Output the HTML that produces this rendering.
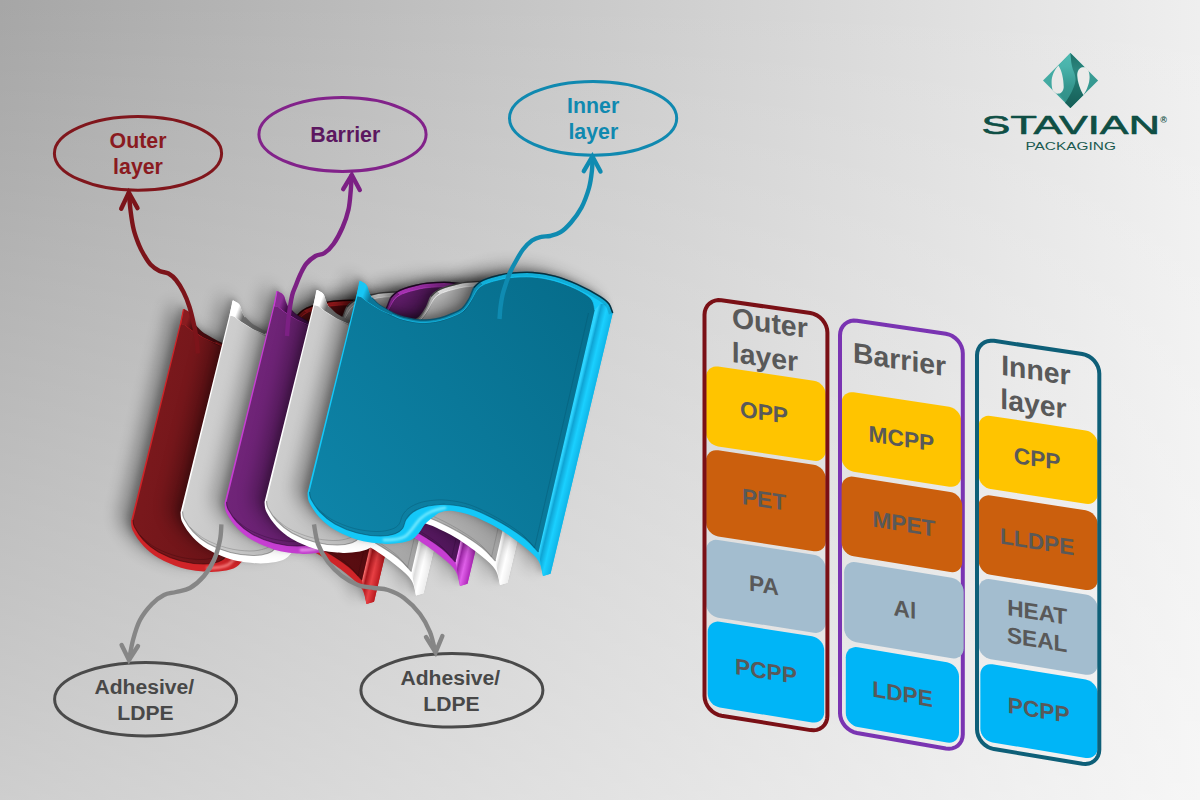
<!DOCTYPE html>
<html lang="en"><head><meta charset="utf-8"><title>Stavian Packaging - film layer structure</title>
<style>
html,body{margin:0;padding:0;}
body{width:1200px;height:800px;overflow:hidden;background:#d0d0d0;font-family:"Liberation Sans", Arial, sans-serif;}
#stage{position:relative;width:1200px;height:800px;overflow:hidden;
 background:linear-gradient(to bottom,rgba(255,255,255,0),rgba(255,255,255,0.45)),linear-gradient(to right,#a6a6a6,#efefef);}
svg{position:absolute;left:0;top:0;display:block;}
svg text{font-family:"Liberation Sans", Arial, sans-serif;}
</style></head><body><div id="stage">
<svg width="1200" height="800" viewBox="0 0 1200 800">

<defs>
<linearGradient id="f_red" gradientUnits="userSpaceOnUse" x1="310" y1="420" x2="560" y2="470"><stop offset="0" stop-color="#7c191d"/><stop offset="1" stop-color="#560c10"/></linearGradient>
<linearGradient id="l_red" gradientUnits="userSpaceOnUse" x1="358" y1="290" x2="384" y2="300"><stop offset="0" stop-color="#8a1c20"/><stop offset="0.22" stop-color="#8a1c20"/><stop offset="0.5" stop-color="#4a0c10"/><stop offset="1" stop-color="#4a0c10"/></linearGradient>
<linearGradient id="s_red" gradientUnits="userSpaceOnUse" x1="594.7" y1="310" x2="612.2" y2="314.2"><stop offset="0" stop-color="#f46868"/><stop offset="0.14" stop-color="#f46868"/><stop offset="0.3" stop-color="#a8161c"/><stop offset="0.62" stop-color="#e84044"/><stop offset="1" stop-color="#bc1c22"/></linearGradient>
<linearGradient id="f_wh1" gradientUnits="userSpaceOnUse" x1="310" y1="420" x2="560" y2="470"><stop offset="0" stop-color="#d2d2d2"/><stop offset="1" stop-color="#a4a4a4"/></linearGradient>
<linearGradient id="l_wh1" gradientUnits="userSpaceOnUse" x1="358" y1="290" x2="384" y2="300"><stop offset="0" stop-color="#ffffff"/><stop offset="0.22" stop-color="#ffffff"/><stop offset="0.5" stop-color="#6c6c6c"/><stop offset="1" stop-color="#6c6c6c"/></linearGradient>
<linearGradient id="s_wh1" gradientUnits="userSpaceOnUse" x1="594.7" y1="310" x2="612.2" y2="314.2"><stop offset="0" stop-color="#ffffff"/><stop offset="0.14" stop-color="#ffffff"/><stop offset="0.3" stop-color="#dcdcdc"/><stop offset="0.62" stop-color="#ffffff"/><stop offset="1" stop-color="#eeeeee"/></linearGradient>
<linearGradient id="f_pur" gradientUnits="userSpaceOnUse" x1="310" y1="420" x2="560" y2="470"><stop offset="0" stop-color="#72257a"/><stop offset="1" stop-color="#50165a"/></linearGradient>
<linearGradient id="l_pur" gradientUnits="userSpaceOnUse" x1="358" y1="290" x2="384" y2="300"><stop offset="0" stop-color="#8a2e94"/><stop offset="0.22" stop-color="#8a2e94"/><stop offset="0.5" stop-color="#44104c"/><stop offset="1" stop-color="#44104c"/></linearGradient>
<linearGradient id="s_pur" gradientUnits="userSpaceOnUse" x1="594.7" y1="310" x2="612.2" y2="314.2"><stop offset="0" stop-color="#f48afa"/><stop offset="0.14" stop-color="#f48afa"/><stop offset="0.3" stop-color="#9c24a6"/><stop offset="0.62" stop-color="#e060ea"/><stop offset="1" stop-color="#b22cbc"/></linearGradient>
<linearGradient id="f_wh2" gradientUnits="userSpaceOnUse" x1="310" y1="420" x2="560" y2="470"><stop offset="0" stop-color="#d0d0d0"/><stop offset="1" stop-color="#a2a2a2"/></linearGradient>
<linearGradient id="l_wh2" gradientUnits="userSpaceOnUse" x1="358" y1="290" x2="384" y2="300"><stop offset="0" stop-color="#ffffff"/><stop offset="0.22" stop-color="#ffffff"/><stop offset="0.5" stop-color="#6c6c6c"/><stop offset="1" stop-color="#6c6c6c"/></linearGradient>
<linearGradient id="s_wh2" gradientUnits="userSpaceOnUse" x1="594.7" y1="310" x2="612.2" y2="314.2"><stop offset="0" stop-color="#ffffff"/><stop offset="0.14" stop-color="#ffffff"/><stop offset="0.3" stop-color="#dcdcdc"/><stop offset="0.62" stop-color="#ffffff"/><stop offset="1" stop-color="#eeeeee"/></linearGradient>
<linearGradient id="f_blu" gradientUnits="userSpaceOnUse" x1="320" y1="520" x2="600" y2="290"><stop offset="0" stop-color="#0e84a8"/><stop offset="1" stop-color="#066c8a"/></linearGradient>
<linearGradient id="l_blu" gradientUnits="userSpaceOnUse" x1="358" y1="290" x2="384" y2="300"><stop offset="0" stop-color="#18c6f4"/><stop offset="0.22" stop-color="#18c6f4"/><stop offset="0.5" stop-color="#0c7698"/><stop offset="1" stop-color="#0c7698"/></linearGradient>
<linearGradient id="s_blu" gradientUnits="userSpaceOnUse" x1="594.7" y1="310" x2="612.2" y2="314.2"><stop offset="0" stop-color="#2cd4ff"/><stop offset="0.14" stop-color="#2cd4ff"/><stop offset="0.3" stop-color="#0fa4d4"/><stop offset="0.62" stop-color="#1ad0ff"/><stop offset="1" stop-color="#10b6e8"/></linearGradient>
<filter id="blur7" x="-20%" y="-20%" width="140%" height="140%"><feGaussianBlur stdDeviation="8"/></filter>
<filter id="blur4" x="-20%" y="-20%" width="140%" height="140%"><feGaussianBlur stdDeviation="3"/></filter>
<filter id="blur1" x="-20%" y="-20%" width="140%" height="140%"><feGaussianBlur stdDeviation="0.8"/></filter>
<path id="sil" d="M360.0,281.0 C360.7,281.3 362.8,282.2 364.0,283.0 C365.2,283.8 366.2,284.5 367.0,286.0 C367.8,287.5 368.2,290.0 369.0,292.0 C369.8,294.0 370.5,296.0 372.0,298.0 C373.5,300.0 376.0,302.3 378.0,304.0 C380.0,305.7 381.7,306.6 384.0,308.0 C386.3,309.4 389.3,311.2 392.0,312.5 C394.7,313.8 397.0,315.0 400.0,316.0 C403.0,317.0 406.7,317.8 410.0,318.5 C413.3,319.2 416.7,319.8 420.0,320.0 C423.3,320.2 426.7,320.0 430.0,319.7 C433.3,319.4 436.7,318.9 440.0,318.0 C443.3,317.1 446.3,316.1 450.0,314.5 C453.7,312.9 458.8,311.2 462.0,308.5 C465.2,305.8 467.5,301.5 469.5,298.0 C471.5,294.5 472.2,290.2 474.0,287.5 C475.8,284.8 477.8,283.5 480.0,282.0 C482.2,280.5 484.5,279.6 487.5,278.5 C490.5,277.4 494.2,276.4 498.0,275.5 C501.8,274.6 504.2,273.7 510.0,273.2 C515.8,272.7 525.0,272.0 532.5,272.5 C540.0,273.0 547.5,274.2 555.0,276.2 C562.5,278.2 570.0,281.1 577.5,284.5 C585.0,287.9 594.8,293.2 600.0,296.5 C605.2,299.8 606.9,301.2 609.0,304.0 C611.1,306.8 612.1,311.5 612.7,313.0 L550.5,573.7 L543.0,576.0 C542.2,573.5 541.5,565.8 538.5,561.0 C535.5,556.2 531.0,552.5 525.0,547.5 C519.0,542.5 510.0,535.8 502.5,531.0 C495.0,526.2 486.2,521.9 480.0,519.0 C473.8,516.1 470.0,514.9 465.0,513.5 C460.0,512.1 454.2,510.9 450.0,510.7 C445.8,510.5 442.7,511.5 440.0,512.5 C437.3,513.5 436.5,514.6 434.0,516.5 C431.5,518.4 427.5,521.2 425.0,524.0 C422.5,526.8 421.5,530.2 419.0,533.0 C416.5,535.8 414.0,538.8 410.0,540.5 C406.0,542.2 400.0,543.0 395.0,543.5 C390.0,544.0 386.2,544.1 380.0,543.5 C373.8,542.9 365.0,542.0 357.5,539.7 C350.0,537.5 341.2,533.6 335.0,530.0 C328.8,526.4 324.2,522.5 320.0,518.0 C315.8,513.5 311.6,507.2 309.5,503.0 C307.4,498.8 307.8,494.7 307.5,493.0 Z"/>
<path id="face" d="M357.5,296.0 C358.2,296.2 360.2,296.5 362.0,297.5 C363.8,298.5 365.0,300.0 368.0,302.0 C371.0,304.0 376.0,307.3 380.0,309.5 C384.0,311.7 388.7,313.5 392.0,315.0 C395.3,316.5 397.0,317.5 400.0,318.5 C403.0,319.5 406.7,320.3 410.0,321.0 C413.3,321.7 416.7,322.3 420.0,322.5 C423.3,322.7 426.7,322.5 430.0,322.2 C433.3,321.9 436.5,321.4 440.0,320.5 C443.5,319.6 447.2,318.6 451.0,317.0 C454.8,315.4 459.7,313.8 463.0,311.0 C466.3,308.2 468.8,303.9 471.0,300.5 C473.2,297.1 474.7,293.0 476.5,290.5 C478.3,288.0 479.9,286.8 482.0,285.5 C484.1,284.2 486.2,283.4 489.0,282.5 C491.8,281.6 495.5,280.6 499.0,279.8 C502.5,279.0 504.5,278.2 510.0,277.7 C515.5,277.2 524.7,276.5 532.0,277.0 C539.3,277.5 546.8,278.8 554.0,280.7 C561.2,282.6 569.3,285.9 575.0,288.5 C580.7,291.1 585.0,293.8 588.0,296.0 C591.0,298.2 591.9,299.7 593.0,302.0 C594.1,304.3 594.4,308.7 594.7,310.0 L538.5,552.0 C536.2,549.8 531.0,543.2 525.0,538.5 C519.0,533.8 510.0,527.9 502.5,523.5 C495.0,519.1 486.2,514.8 480.0,512.0 C473.8,509.2 470.0,508.2 465.0,507.0 C460.0,505.8 454.2,505.1 450.0,504.7 C445.8,504.3 444.2,504.2 440.0,504.5 C435.8,504.8 429.5,505.4 425.0,506.7 C420.5,507.9 416.2,509.9 413.0,512.0 C409.8,514.1 407.8,516.8 406.0,519.5 C404.2,522.2 404.3,526.1 402.5,528.5 C400.7,530.9 398.8,532.5 395.0,533.7 C391.2,535.0 386.2,536.1 380.0,536.0 C373.8,535.9 365.0,535.0 357.5,533.0 C350.0,531.0 341.2,527.5 335.0,524.0 C328.8,520.5 324.0,516.2 320.0,512.0 C316.0,507.8 312.8,502.3 311.0,499.0 C309.2,495.7 309.8,493.2 309.5,492.0 Z"/>
<clipPath id="silclip"><use href="#sil"/></clipPath>

<linearGradient id="lgDia" x1="0" y1="0" x2="1" y2="1">
 <stop offset="0" stop-color="#4cb6ae"/><stop offset="1" stop-color="#2d8e86"/>
</linearGradient>
<linearGradient id="lgBand" x1="0" y1="0" x2="0" y2="1">
 <stop offset="0" stop-color="#4fbab2"/><stop offset="0.25" stop-color="#4ab3ab"/>
 <stop offset="0.6" stop-color="#369890"/><stop offset="1" stop-color="#2f8d85"/>
</linearGradient>
<linearGradient id="lgDark" x1="0" y1="0" x2="0" y2="1">
 <stop offset="0" stop-color="#1d6f67"/><stop offset="0.3" stop-color="#2b857d"/>
 <stop offset="0.6" stop-color="#1f726a"/><stop offset="1" stop-color="#155d56"/>
</linearGradient>
</defs>
<g id="sheets">
<g transform="translate(-176.5 28)">
<use href="#sil" transform="translate(-13 -7)" fill="#000" opacity="0.31" filter="url(#blur7)"/>
<use href="#sil" transform="translate(-3.5 -3.5)" fill="#000" opacity="0.24" filter="url(#blur4)"/>
<use href="#sil" fill="#d02428"/>
<path d="M594.7,310 L600,304 L609,304 L612.7,313 L550.5,573.7 L543,576 L538.5,552 Z" fill="url(#s_red)"/>
<use href="#face" fill="url(#f_red)"/>
<path d="M588.5,313 L534.5,548.0 C532.4,545.7 527.6,538.8 521.7,534.0 C515.8,529.2 506.7,523.4 499.2,519.0 C491.7,514.6 482.9,510.2 476.7,507.5 C470.4,504.8 466.7,503.7 461.7,502.5 C456.7,501.3 450.9,500.6 446.7,500.2 C442.5,499.8 440.9,499.7 436.7,500.0 C432.5,500.3 426.2,500.9 421.7,502.2 C417.2,503.4 412.9,505.4 409.7,507.5 C406.5,509.6 404.4,512.2 402.7,515.0 C400.9,517.8 401.0,521.6 399.2,524.0 C397.4,526.4 395.4,528.0 391.7,529.2 C387.9,530.5 382.9,531.6 376.7,531.5 C370.4,531.4 361.7,530.5 354.2,528.5 C346.7,526.5 337.9,523.0 331.7,519.5 C325.4,516.0 319.2,509.5 316.7,507.5" fill="none" stroke="#3a080a" stroke-width="0.9" opacity="0.4"/>
<path d="M445,507.8 C436,509 427,512.5 420.5,518.5 C415,524 412,531 405.5,536.2 C401,539 392,540 384,540" fill="none" stroke="#f88080" stroke-width="2.8" opacity="0.9" stroke-linecap="round" filter="url(#blur1)"/>
<path d="M538.5,552.0 C536.2,549.8 531.0,543.2 525.0,538.5 C519.0,533.8 510.0,527.9 502.5,523.5 C495.0,519.1 486.2,514.8 480.0,512.0 C473.8,509.2 470.0,508.2 465.0,507.0 C460.0,505.8 454.2,505.1 450.0,504.7 C445.8,504.3 444.2,504.2 440.0,504.5 C435.8,504.8 429.5,505.4 425.0,506.7 C420.5,507.9 416.2,509.9 413.0,512.0 C409.8,514.1 407.8,516.8 406.0,519.5 C404.2,522.2 404.3,526.1 402.5,528.5 C400.7,530.9 398.8,532.5 395.0,533.7 C391.2,535.0 386.2,536.1 380.0,536.0 C373.8,535.9 365.0,535.0 357.5,533.0 C350.0,531.0 341.2,527.5 335.0,524.0 C328.8,520.5 324.0,516.2 320.0,512.0 C316.0,507.8 312.8,502.3 311.0,499.0 C309.2,495.7 309.8,493.2 309.5,492.0" fill="none" stroke="#3a080a" stroke-width="1.1" opacity="0.6"/>
<g clip-path="url(#silclip)"><path d="M372.0,298.0 C373.0,299.0 376.0,302.3 378.0,304.0 C380.0,305.7 381.7,306.6 384.0,308.0 C386.3,309.4 389.3,311.2 392.0,312.5 C394.7,313.8 397.0,315.0 400.0,316.0 C403.0,317.0 406.7,317.8 410.0,318.5 C413.3,319.2 416.7,319.8 420.0,320.0 C423.3,320.2 426.7,320.0 430.0,319.7 C433.3,319.4 436.7,318.9 440.0,318.0 C443.3,317.1 446.3,316.1 450.0,314.5 C453.7,312.9 458.8,311.2 462.0,308.5 C465.2,305.8 467.5,301.5 469.5,298.0 C471.5,294.5 472.2,290.2 474.0,287.5 C475.8,284.8 479.0,282.9 480.0,282.0" fill="none" stroke="#3a080a" stroke-width="7" opacity="0.5"/><path d="M480.0,282.0 C481.2,281.4 484.5,279.6 487.5,278.5 C490.5,277.4 494.2,276.4 498.0,275.5 C501.8,274.6 504.2,273.7 510.0,273.2 C515.8,272.7 525.0,272.0 532.5,272.5 C540.0,273.0 547.5,274.2 555.0,276.2 C562.5,278.2 570.0,281.1 577.5,284.5 C585.0,287.9 594.8,293.2 600.0,296.5 C605.2,299.8 606.9,301.2 609.0,304.0 C611.1,306.8 612.1,311.5 612.7,313.0" fill="none" stroke="#3a080a" stroke-width="8" opacity="0.22"/></g>
<path d="M372.0,298.0 C373.0,299.0 376.0,302.3 378.0,304.0 C380.0,305.7 381.7,306.6 384.0,308.0 C386.3,309.4 389.3,311.2 392.0,312.5 C394.7,313.8 397.0,315.0 400.0,316.0 C403.0,317.0 406.7,317.8 410.0,318.5 C413.3,319.2 416.7,319.8 420.0,320.0 C423.3,320.2 426.7,320.0 430.0,319.7 C433.3,319.4 436.7,318.9 440.0,318.0 C443.3,317.1 446.3,316.1 450.0,314.5 C453.7,312.9 458.8,311.2 462.0,308.5 C465.2,305.8 467.5,301.5 469.5,298.0 C471.5,294.5 472.2,290.2 474.0,287.5 C475.8,284.8 477.8,283.5 480.0,282.0 C482.2,280.5 484.5,279.6 487.5,278.5 C490.5,277.4 494.2,276.4 498.0,275.5 C501.8,274.6 504.2,273.7 510.0,273.2 C515.8,272.7 525.0,272.0 532.5,272.5 C540.0,273.0 547.5,274.2 555.0,276.2 C562.5,278.2 570.0,281.1 577.5,284.5 C585.0,287.9 594.8,293.2 600.0,296.5 C605.2,299.8 606.9,301.2 609.0,304.0 C611.1,306.8 612.1,311.5 612.7,313.0" fill="none" stroke="#3a080a" stroke-width="1.5" opacity="0.9"/>
<path d="M474.0,287.5 C475.0,286.6 477.8,283.5 480.0,282.0 C482.2,280.5 484.5,279.6 487.5,278.5 C490.5,277.4 494.2,276.4 498.0,275.5 C501.8,274.6 504.2,273.7 510.0,273.2 C515.8,272.7 525.0,272.0 532.5,272.5 C540.0,273.0 547.5,274.2 555.0,276.2 C562.5,278.2 570.0,281.1 577.5,284.5 C585.0,287.9 594.8,293.2 600.0,296.5 C605.2,299.8 606.9,301.2 609.0,304.0 C611.1,306.8 612.1,311.5 612.7,313.0" fill="none" stroke="#000" stroke-width="1.3" opacity="0.45"/>
<path d="M362.0,297.5 C363.0,298.2 365.0,300.0 368.0,302.0 C371.0,304.0 376.0,307.3 380.0,309.5 C384.0,311.7 388.7,313.5 392.0,315.0 C395.3,316.5 397.0,317.5 400.0,318.5 C403.0,319.5 406.7,320.3 410.0,321.0 C413.3,321.7 416.7,322.3 420.0,322.5 C423.3,322.7 426.7,322.5 430.0,322.2 C433.3,321.9 436.5,321.4 440.0,320.5 C443.5,319.6 447.2,318.6 451.0,317.0 C454.8,315.4 459.7,313.8 463.0,311.0 C466.3,308.2 468.8,303.9 471.0,300.5 C473.2,297.1 474.7,293.0 476.5,290.5 C478.3,288.0 479.9,286.8 482.0,285.5 C484.1,284.2 486.2,283.4 489.0,282.5 C491.8,281.6 495.5,280.6 499.0,279.8 C502.5,279.0 504.5,278.2 510.0,277.7 C515.5,277.2 524.7,276.5 532.0,277.0 C539.3,277.5 546.8,278.8 554.0,280.7 C561.2,282.6 569.3,285.9 575.0,288.5 C580.7,291.1 585.0,293.8 588.0,296.0 C591.0,298.2 591.9,299.7 593.0,302.0 C594.1,304.3 594.4,308.7 594.7,310.0" fill="none" stroke="#d02428" stroke-width="0.9" opacity="0.75"/>
<path d="M360.0,281.0 C360.7,281.3 362.8,282.2 364.0,283.0 C365.2,283.8 366.2,284.5 367.0,286.0 C367.8,287.5 368.2,290.0 369.0,292.0 C369.8,294.0 370.5,296.0 372.0,298.0 C373.5,300.0 376.0,302.3 378.0,304.0 C380.0,305.7 381.7,306.6 384.0,308.0 C386.3,309.4 390.7,311.8 392.0,312.5 L392,315 L380,309.5 L368,302 L362,297.5 L357.5,296 Z" fill="url(#l_red)"/>
<path d="M360,281 L357,296.5" stroke="#d02428" stroke-width="1.2" fill="none"/>
</g>
<g transform="translate(-127 19.5)">
<use href="#sil" transform="translate(-13 -7)" fill="#000" opacity="0.26" filter="url(#blur7)"/>
<use href="#sil" transform="translate(-3.5 -3.5)" fill="#000" opacity="0.24" filter="url(#blur4)"/>
<use href="#sil" fill="#ffffff"/>
<path d="M594.7,310 L600,304 L609,304 L612.7,313 L550.5,573.7 L543,576 L538.5,552 Z" fill="url(#s_wh1)"/>
<use href="#face" fill="url(#f_wh1)"/>
<path d="M588.5,313 L534.5,548.0 C532.4,545.7 527.6,538.8 521.7,534.0 C515.8,529.2 506.7,523.4 499.2,519.0 C491.7,514.6 482.9,510.2 476.7,507.5 C470.4,504.8 466.7,503.7 461.7,502.5 C456.7,501.3 450.9,500.6 446.7,500.2 C442.5,499.8 440.9,499.7 436.7,500.0 C432.5,500.3 426.2,500.9 421.7,502.2 C417.2,503.4 412.9,505.4 409.7,507.5 C406.5,509.6 404.4,512.2 402.7,515.0 C400.9,517.8 401.0,521.6 399.2,524.0 C397.4,526.4 395.4,528.0 391.7,529.2 C387.9,530.5 382.9,531.6 376.7,531.5 C370.4,531.4 361.7,530.5 354.2,528.5 C346.7,526.5 337.9,523.0 331.7,519.5 C325.4,516.0 319.2,509.5 316.7,507.5" fill="none" stroke="#6a6a6a" stroke-width="0.9" opacity="0.4"/>
<path d="M445,507.8 C436,509 427,512.5 420.5,518.5 C415,524 412,531 405.5,536.2 C401,539 392,540 384,540" fill="none" stroke="#ffffff" stroke-width="2.8" opacity="0.9" stroke-linecap="round" filter="url(#blur1)"/>
<path d="M538.5,552.0 C536.2,549.8 531.0,543.2 525.0,538.5 C519.0,533.8 510.0,527.9 502.5,523.5 C495.0,519.1 486.2,514.8 480.0,512.0 C473.8,509.2 470.0,508.2 465.0,507.0 C460.0,505.8 454.2,505.1 450.0,504.7 C445.8,504.3 444.2,504.2 440.0,504.5 C435.8,504.8 429.5,505.4 425.0,506.7 C420.5,507.9 416.2,509.9 413.0,512.0 C409.8,514.1 407.8,516.8 406.0,519.5 C404.2,522.2 404.3,526.1 402.5,528.5 C400.7,530.9 398.8,532.5 395.0,533.7 C391.2,535.0 386.2,536.1 380.0,536.0 C373.8,535.9 365.0,535.0 357.5,533.0 C350.0,531.0 341.2,527.5 335.0,524.0 C328.8,520.5 324.0,516.2 320.0,512.0 C316.0,507.8 312.8,502.3 311.0,499.0 C309.2,495.7 309.8,493.2 309.5,492.0" fill="none" stroke="#6a6a6a" stroke-width="1.1" opacity="0.6"/>
<g clip-path="url(#silclip)"><path d="M372.0,298.0 C373.0,299.0 376.0,302.3 378.0,304.0 C380.0,305.7 381.7,306.6 384.0,308.0 C386.3,309.4 389.3,311.2 392.0,312.5 C394.7,313.8 397.0,315.0 400.0,316.0 C403.0,317.0 406.7,317.8 410.0,318.5 C413.3,319.2 416.7,319.8 420.0,320.0 C423.3,320.2 426.7,320.0 430.0,319.7 C433.3,319.4 436.7,318.9 440.0,318.0 C443.3,317.1 446.3,316.1 450.0,314.5 C453.7,312.9 458.8,311.2 462.0,308.5 C465.2,305.8 467.5,301.5 469.5,298.0 C471.5,294.5 472.2,290.2 474.0,287.5 C475.8,284.8 479.0,282.9 480.0,282.0" fill="none" stroke="#6a6a6a" stroke-width="7" opacity="0.5"/><path d="M480.0,282.0 C481.2,281.4 484.5,279.6 487.5,278.5 C490.5,277.4 494.2,276.4 498.0,275.5 C501.8,274.6 504.2,273.7 510.0,273.2 C515.8,272.7 525.0,272.0 532.5,272.5 C540.0,273.0 547.5,274.2 555.0,276.2 C562.5,278.2 570.0,281.1 577.5,284.5 C585.0,287.9 594.8,293.2 600.0,296.5 C605.2,299.8 606.9,301.2 609.0,304.0 C611.1,306.8 612.1,311.5 612.7,313.0" fill="none" stroke="#6a6a6a" stroke-width="8" opacity="0.22"/></g>
<path d="M372.0,298.0 C373.0,299.0 376.0,302.3 378.0,304.0 C380.0,305.7 381.7,306.6 384.0,308.0 C386.3,309.4 389.3,311.2 392.0,312.5 C394.7,313.8 397.0,315.0 400.0,316.0 C403.0,317.0 406.7,317.8 410.0,318.5 C413.3,319.2 416.7,319.8 420.0,320.0 C423.3,320.2 426.7,320.0 430.0,319.7 C433.3,319.4 436.7,318.9 440.0,318.0 C443.3,317.1 446.3,316.1 450.0,314.5 C453.7,312.9 458.8,311.2 462.0,308.5 C465.2,305.8 467.5,301.5 469.5,298.0 C471.5,294.5 472.2,290.2 474.0,287.5 C475.8,284.8 477.8,283.5 480.0,282.0 C482.2,280.5 484.5,279.6 487.5,278.5 C490.5,277.4 494.2,276.4 498.0,275.5 C501.8,274.6 504.2,273.7 510.0,273.2 C515.8,272.7 525.0,272.0 532.5,272.5 C540.0,273.0 547.5,274.2 555.0,276.2 C562.5,278.2 570.0,281.1 577.5,284.5 C585.0,287.9 594.8,293.2 600.0,296.5 C605.2,299.8 606.9,301.2 609.0,304.0 C611.1,306.8 612.1,311.5 612.7,313.0" fill="none" stroke="#6a6a6a" stroke-width="1.5" opacity="0.9"/>
<path d="M474.0,287.5 C475.0,286.6 477.8,283.5 480.0,282.0 C482.2,280.5 484.5,279.6 487.5,278.5 C490.5,277.4 494.2,276.4 498.0,275.5 C501.8,274.6 504.2,273.7 510.0,273.2 C515.8,272.7 525.0,272.0 532.5,272.5 C540.0,273.0 547.5,274.2 555.0,276.2 C562.5,278.2 570.0,281.1 577.5,284.5 C585.0,287.9 594.8,293.2 600.0,296.5 C605.2,299.8 606.9,301.2 609.0,304.0 C611.1,306.8 612.1,311.5 612.7,313.0" fill="none" stroke="#000" stroke-width="1.3" opacity="0.45"/>
<path d="M362.0,297.5 C363.0,298.2 365.0,300.0 368.0,302.0 C371.0,304.0 376.0,307.3 380.0,309.5 C384.0,311.7 388.7,313.5 392.0,315.0 C395.3,316.5 397.0,317.5 400.0,318.5 C403.0,319.5 406.7,320.3 410.0,321.0 C413.3,321.7 416.7,322.3 420.0,322.5 C423.3,322.7 426.7,322.5 430.0,322.2 C433.3,321.9 436.5,321.4 440.0,320.5 C443.5,319.6 447.2,318.6 451.0,317.0 C454.8,315.4 459.7,313.8 463.0,311.0 C466.3,308.2 468.8,303.9 471.0,300.5 C473.2,297.1 474.7,293.0 476.5,290.5 C478.3,288.0 479.9,286.8 482.0,285.5 C484.1,284.2 486.2,283.4 489.0,282.5 C491.8,281.6 495.5,280.6 499.0,279.8 C502.5,279.0 504.5,278.2 510.0,277.7 C515.5,277.2 524.7,276.5 532.0,277.0 C539.3,277.5 546.8,278.8 554.0,280.7 C561.2,282.6 569.3,285.9 575.0,288.5 C580.7,291.1 585.0,293.8 588.0,296.0 C591.0,298.2 591.9,299.7 593.0,302.0 C594.1,304.3 594.4,308.7 594.7,310.0" fill="none" stroke="#ffffff" stroke-width="0.9" opacity="0.75"/>
<path d="M360.0,281.0 C360.7,281.3 362.8,282.2 364.0,283.0 C365.2,283.8 366.2,284.5 367.0,286.0 C367.8,287.5 368.2,290.0 369.0,292.0 C369.8,294.0 370.5,296.0 372.0,298.0 C373.5,300.0 376.0,302.3 378.0,304.0 C380.0,305.7 381.7,306.6 384.0,308.0 C386.3,309.4 390.7,311.8 392.0,312.5 L392,315 L380,309.5 L368,302 L362,297.5 L357.5,296 Z" fill="url(#l_wh1)"/>
<path d="M360,281 L357,296.5" stroke="#ffffff" stroke-width="1.2" fill="none"/>
</g>
<g transform="translate(-83 10)">
<use href="#sil" transform="translate(-13 -7)" fill="#000" opacity="0.26" filter="url(#blur7)"/>
<use href="#sil" transform="translate(-3.5 -3.5)" fill="#000" opacity="0.24" filter="url(#blur4)"/>
<use href="#sil" fill="#c63ed2"/>
<path d="M594.7,310 L600,304 L609,304 L612.7,313 L550.5,573.7 L543,576 L538.5,552 Z" fill="url(#s_pur)"/>
<use href="#face" fill="url(#f_pur)"/>
<path d="M588.5,313 L534.5,548.0 C532.4,545.7 527.6,538.8 521.7,534.0 C515.8,529.2 506.7,523.4 499.2,519.0 C491.7,514.6 482.9,510.2 476.7,507.5 C470.4,504.8 466.7,503.7 461.7,502.5 C456.7,501.3 450.9,500.6 446.7,500.2 C442.5,499.8 440.9,499.7 436.7,500.0 C432.5,500.3 426.2,500.9 421.7,502.2 C417.2,503.4 412.9,505.4 409.7,507.5 C406.5,509.6 404.4,512.2 402.7,515.0 C400.9,517.8 401.0,521.6 399.2,524.0 C397.4,526.4 395.4,528.0 391.7,529.2 C387.9,530.5 382.9,531.6 376.7,531.5 C370.4,531.4 361.7,530.5 354.2,528.5 C346.7,526.5 337.9,523.0 331.7,519.5 C325.4,516.0 319.2,509.5 316.7,507.5" fill="none" stroke="#300a36" stroke-width="0.9" opacity="0.4"/>
<path d="M445,507.8 C436,509 427,512.5 420.5,518.5 C415,524 412,531 405.5,536.2 C401,539 392,540 384,540" fill="none" stroke="#f6a0fa" stroke-width="2.8" opacity="0.9" stroke-linecap="round" filter="url(#blur1)"/>
<path d="M538.5,552.0 C536.2,549.8 531.0,543.2 525.0,538.5 C519.0,533.8 510.0,527.9 502.5,523.5 C495.0,519.1 486.2,514.8 480.0,512.0 C473.8,509.2 470.0,508.2 465.0,507.0 C460.0,505.8 454.2,505.1 450.0,504.7 C445.8,504.3 444.2,504.2 440.0,504.5 C435.8,504.8 429.5,505.4 425.0,506.7 C420.5,507.9 416.2,509.9 413.0,512.0 C409.8,514.1 407.8,516.8 406.0,519.5 C404.2,522.2 404.3,526.1 402.5,528.5 C400.7,530.9 398.8,532.5 395.0,533.7 C391.2,535.0 386.2,536.1 380.0,536.0 C373.8,535.9 365.0,535.0 357.5,533.0 C350.0,531.0 341.2,527.5 335.0,524.0 C328.8,520.5 324.0,516.2 320.0,512.0 C316.0,507.8 312.8,502.3 311.0,499.0 C309.2,495.7 309.8,493.2 309.5,492.0" fill="none" stroke="#300a36" stroke-width="1.1" opacity="0.6"/>
<g clip-path="url(#silclip)"><path d="M372.0,298.0 C373.0,299.0 376.0,302.3 378.0,304.0 C380.0,305.7 381.7,306.6 384.0,308.0 C386.3,309.4 389.3,311.2 392.0,312.5 C394.7,313.8 397.0,315.0 400.0,316.0 C403.0,317.0 406.7,317.8 410.0,318.5 C413.3,319.2 416.7,319.8 420.0,320.0 C423.3,320.2 426.7,320.0 430.0,319.7 C433.3,319.4 436.7,318.9 440.0,318.0 C443.3,317.1 446.3,316.1 450.0,314.5 C453.7,312.9 458.8,311.2 462.0,308.5 C465.2,305.8 467.5,301.5 469.5,298.0 C471.5,294.5 472.2,290.2 474.0,287.5 C475.8,284.8 479.0,282.9 480.0,282.0" fill="none" stroke="#300a36" stroke-width="7" opacity="0.5"/><path d="M480.0,282.0 C481.2,281.4 484.5,279.6 487.5,278.5 C490.5,277.4 494.2,276.4 498.0,275.5 C501.8,274.6 504.2,273.7 510.0,273.2 C515.8,272.7 525.0,272.0 532.5,272.5 C540.0,273.0 547.5,274.2 555.0,276.2 C562.5,278.2 570.0,281.1 577.5,284.5 C585.0,287.9 594.8,293.2 600.0,296.5 C605.2,299.8 606.9,301.2 609.0,304.0 C611.1,306.8 612.1,311.5 612.7,313.0" fill="none" stroke="#300a36" stroke-width="8" opacity="0.22"/></g>
<path d="M372.0,298.0 C373.0,299.0 376.0,302.3 378.0,304.0 C380.0,305.7 381.7,306.6 384.0,308.0 C386.3,309.4 389.3,311.2 392.0,312.5 C394.7,313.8 397.0,315.0 400.0,316.0 C403.0,317.0 406.7,317.8 410.0,318.5 C413.3,319.2 416.7,319.8 420.0,320.0 C423.3,320.2 426.7,320.0 430.0,319.7 C433.3,319.4 436.7,318.9 440.0,318.0 C443.3,317.1 446.3,316.1 450.0,314.5 C453.7,312.9 458.8,311.2 462.0,308.5 C465.2,305.8 467.5,301.5 469.5,298.0 C471.5,294.5 472.2,290.2 474.0,287.5 C475.8,284.8 477.8,283.5 480.0,282.0 C482.2,280.5 484.5,279.6 487.5,278.5 C490.5,277.4 494.2,276.4 498.0,275.5 C501.8,274.6 504.2,273.7 510.0,273.2 C515.8,272.7 525.0,272.0 532.5,272.5 C540.0,273.0 547.5,274.2 555.0,276.2 C562.5,278.2 570.0,281.1 577.5,284.5 C585.0,287.9 594.8,293.2 600.0,296.5 C605.2,299.8 606.9,301.2 609.0,304.0 C611.1,306.8 612.1,311.5 612.7,313.0" fill="none" stroke="#300a36" stroke-width="1.5" opacity="0.9"/>
<path d="M474.0,287.5 C475.0,286.6 477.8,283.5 480.0,282.0 C482.2,280.5 484.5,279.6 487.5,278.5 C490.5,277.4 494.2,276.4 498.0,275.5 C501.8,274.6 504.2,273.7 510.0,273.2 C515.8,272.7 525.0,272.0 532.5,272.5 C540.0,273.0 547.5,274.2 555.0,276.2 C562.5,278.2 570.0,281.1 577.5,284.5 C585.0,287.9 594.8,293.2 600.0,296.5 C605.2,299.8 606.9,301.2 609.0,304.0 C611.1,306.8 612.1,311.5 612.7,313.0" fill="none" stroke="#000" stroke-width="1.3" opacity="0.45"/>
<path d="M362.0,297.5 C363.0,298.2 365.0,300.0 368.0,302.0 C371.0,304.0 376.0,307.3 380.0,309.5 C384.0,311.7 388.7,313.5 392.0,315.0 C395.3,316.5 397.0,317.5 400.0,318.5 C403.0,319.5 406.7,320.3 410.0,321.0 C413.3,321.7 416.7,322.3 420.0,322.5 C423.3,322.7 426.7,322.5 430.0,322.2 C433.3,321.9 436.5,321.4 440.0,320.5 C443.5,319.6 447.2,318.6 451.0,317.0 C454.8,315.4 459.7,313.8 463.0,311.0 C466.3,308.2 468.8,303.9 471.0,300.5 C473.2,297.1 474.7,293.0 476.5,290.5 C478.3,288.0 479.9,286.8 482.0,285.5 C484.1,284.2 486.2,283.4 489.0,282.5 C491.8,281.6 495.5,280.6 499.0,279.8 C502.5,279.0 504.5,278.2 510.0,277.7 C515.5,277.2 524.7,276.5 532.0,277.0 C539.3,277.5 546.8,278.8 554.0,280.7 C561.2,282.6 569.3,285.9 575.0,288.5 C580.7,291.1 585.0,293.8 588.0,296.0 C591.0,298.2 591.9,299.7 593.0,302.0 C594.1,304.3 594.4,308.7 594.7,310.0" fill="none" stroke="#c63ed2" stroke-width="0.9" opacity="0.75"/>
<path d="M360.0,281.0 C360.7,281.3 362.8,282.2 364.0,283.0 C365.2,283.8 366.2,284.5 367.0,286.0 C367.8,287.5 368.2,290.0 369.0,292.0 C369.8,294.0 370.5,296.0 372.0,298.0 C373.5,300.0 376.0,302.3 378.0,304.0 C380.0,305.7 381.7,306.6 384.0,308.0 C386.3,309.4 390.7,311.8 392.0,312.5 L392,315 L380,309.5 L368,302 L362,297.5 L357.5,296 Z" fill="url(#l_pur)"/>
<path d="M360,281 L357,296.5" stroke="#c63ed2" stroke-width="1.2" fill="none"/>
</g>
<g transform="translate(-43 9)">
<use href="#sil" transform="translate(-13 -7)" fill="#000" opacity="0.26" filter="url(#blur7)"/>
<use href="#sil" transform="translate(-3.5 -3.5)" fill="#000" opacity="0.24" filter="url(#blur4)"/>
<use href="#sil" fill="#ffffff"/>
<path d="M594.7,310 L600,304 L609,304 L612.7,313 L550.5,573.7 L543,576 L538.5,552 Z" fill="url(#s_wh2)"/>
<use href="#face" fill="url(#f_wh2)"/>
<path d="M588.5,313 L534.5,548.0 C532.4,545.7 527.6,538.8 521.7,534.0 C515.8,529.2 506.7,523.4 499.2,519.0 C491.7,514.6 482.9,510.2 476.7,507.5 C470.4,504.8 466.7,503.7 461.7,502.5 C456.7,501.3 450.9,500.6 446.7,500.2 C442.5,499.8 440.9,499.7 436.7,500.0 C432.5,500.3 426.2,500.9 421.7,502.2 C417.2,503.4 412.9,505.4 409.7,507.5 C406.5,509.6 404.4,512.2 402.7,515.0 C400.9,517.8 401.0,521.6 399.2,524.0 C397.4,526.4 395.4,528.0 391.7,529.2 C387.9,530.5 382.9,531.6 376.7,531.5 C370.4,531.4 361.7,530.5 354.2,528.5 C346.7,526.5 337.9,523.0 331.7,519.5 C325.4,516.0 319.2,509.5 316.7,507.5" fill="none" stroke="#6a6a6a" stroke-width="0.9" opacity="0.4"/>
<path d="M445,507.8 C436,509 427,512.5 420.5,518.5 C415,524 412,531 405.5,536.2 C401,539 392,540 384,540" fill="none" stroke="#ffffff" stroke-width="2.8" opacity="0.9" stroke-linecap="round" filter="url(#blur1)"/>
<path d="M538.5,552.0 C536.2,549.8 531.0,543.2 525.0,538.5 C519.0,533.8 510.0,527.9 502.5,523.5 C495.0,519.1 486.2,514.8 480.0,512.0 C473.8,509.2 470.0,508.2 465.0,507.0 C460.0,505.8 454.2,505.1 450.0,504.7 C445.8,504.3 444.2,504.2 440.0,504.5 C435.8,504.8 429.5,505.4 425.0,506.7 C420.5,507.9 416.2,509.9 413.0,512.0 C409.8,514.1 407.8,516.8 406.0,519.5 C404.2,522.2 404.3,526.1 402.5,528.5 C400.7,530.9 398.8,532.5 395.0,533.7 C391.2,535.0 386.2,536.1 380.0,536.0 C373.8,535.9 365.0,535.0 357.5,533.0 C350.0,531.0 341.2,527.5 335.0,524.0 C328.8,520.5 324.0,516.2 320.0,512.0 C316.0,507.8 312.8,502.3 311.0,499.0 C309.2,495.7 309.8,493.2 309.5,492.0" fill="none" stroke="#6a6a6a" stroke-width="1.1" opacity="0.6"/>
<g clip-path="url(#silclip)"><path d="M372.0,298.0 C373.0,299.0 376.0,302.3 378.0,304.0 C380.0,305.7 381.7,306.6 384.0,308.0 C386.3,309.4 389.3,311.2 392.0,312.5 C394.7,313.8 397.0,315.0 400.0,316.0 C403.0,317.0 406.7,317.8 410.0,318.5 C413.3,319.2 416.7,319.8 420.0,320.0 C423.3,320.2 426.7,320.0 430.0,319.7 C433.3,319.4 436.7,318.9 440.0,318.0 C443.3,317.1 446.3,316.1 450.0,314.5 C453.7,312.9 458.8,311.2 462.0,308.5 C465.2,305.8 467.5,301.5 469.5,298.0 C471.5,294.5 472.2,290.2 474.0,287.5 C475.8,284.8 479.0,282.9 480.0,282.0" fill="none" stroke="#6a6a6a" stroke-width="7" opacity="0.5"/><path d="M480.0,282.0 C481.2,281.4 484.5,279.6 487.5,278.5 C490.5,277.4 494.2,276.4 498.0,275.5 C501.8,274.6 504.2,273.7 510.0,273.2 C515.8,272.7 525.0,272.0 532.5,272.5 C540.0,273.0 547.5,274.2 555.0,276.2 C562.5,278.2 570.0,281.1 577.5,284.5 C585.0,287.9 594.8,293.2 600.0,296.5 C605.2,299.8 606.9,301.2 609.0,304.0 C611.1,306.8 612.1,311.5 612.7,313.0" fill="none" stroke="#6a6a6a" stroke-width="8" opacity="0.22"/></g>
<path d="M372.0,298.0 C373.0,299.0 376.0,302.3 378.0,304.0 C380.0,305.7 381.7,306.6 384.0,308.0 C386.3,309.4 389.3,311.2 392.0,312.5 C394.7,313.8 397.0,315.0 400.0,316.0 C403.0,317.0 406.7,317.8 410.0,318.5 C413.3,319.2 416.7,319.8 420.0,320.0 C423.3,320.2 426.7,320.0 430.0,319.7 C433.3,319.4 436.7,318.9 440.0,318.0 C443.3,317.1 446.3,316.1 450.0,314.5 C453.7,312.9 458.8,311.2 462.0,308.5 C465.2,305.8 467.5,301.5 469.5,298.0 C471.5,294.5 472.2,290.2 474.0,287.5 C475.8,284.8 477.8,283.5 480.0,282.0 C482.2,280.5 484.5,279.6 487.5,278.5 C490.5,277.4 494.2,276.4 498.0,275.5 C501.8,274.6 504.2,273.7 510.0,273.2 C515.8,272.7 525.0,272.0 532.5,272.5 C540.0,273.0 547.5,274.2 555.0,276.2 C562.5,278.2 570.0,281.1 577.5,284.5 C585.0,287.9 594.8,293.2 600.0,296.5 C605.2,299.8 606.9,301.2 609.0,304.0 C611.1,306.8 612.1,311.5 612.7,313.0" fill="none" stroke="#6a6a6a" stroke-width="1.5" opacity="0.9"/>
<path d="M474.0,287.5 C475.0,286.6 477.8,283.5 480.0,282.0 C482.2,280.5 484.5,279.6 487.5,278.5 C490.5,277.4 494.2,276.4 498.0,275.5 C501.8,274.6 504.2,273.7 510.0,273.2 C515.8,272.7 525.0,272.0 532.5,272.5 C540.0,273.0 547.5,274.2 555.0,276.2 C562.5,278.2 570.0,281.1 577.5,284.5 C585.0,287.9 594.8,293.2 600.0,296.5 C605.2,299.8 606.9,301.2 609.0,304.0 C611.1,306.8 612.1,311.5 612.7,313.0" fill="none" stroke="#000" stroke-width="1.3" opacity="0.45"/>
<path d="M362.0,297.5 C363.0,298.2 365.0,300.0 368.0,302.0 C371.0,304.0 376.0,307.3 380.0,309.5 C384.0,311.7 388.7,313.5 392.0,315.0 C395.3,316.5 397.0,317.5 400.0,318.5 C403.0,319.5 406.7,320.3 410.0,321.0 C413.3,321.7 416.7,322.3 420.0,322.5 C423.3,322.7 426.7,322.5 430.0,322.2 C433.3,321.9 436.5,321.4 440.0,320.5 C443.5,319.6 447.2,318.6 451.0,317.0 C454.8,315.4 459.7,313.8 463.0,311.0 C466.3,308.2 468.8,303.9 471.0,300.5 C473.2,297.1 474.7,293.0 476.5,290.5 C478.3,288.0 479.9,286.8 482.0,285.5 C484.1,284.2 486.2,283.4 489.0,282.5 C491.8,281.6 495.5,280.6 499.0,279.8 C502.5,279.0 504.5,278.2 510.0,277.7 C515.5,277.2 524.7,276.5 532.0,277.0 C539.3,277.5 546.8,278.8 554.0,280.7 C561.2,282.6 569.3,285.9 575.0,288.5 C580.7,291.1 585.0,293.8 588.0,296.0 C591.0,298.2 591.9,299.7 593.0,302.0 C594.1,304.3 594.4,308.7 594.7,310.0" fill="none" stroke="#ffffff" stroke-width="0.9" opacity="0.75"/>
<path d="M360.0,281.0 C360.7,281.3 362.8,282.2 364.0,283.0 C365.2,283.8 366.2,284.5 367.0,286.0 C367.8,287.5 368.2,290.0 369.0,292.0 C369.8,294.0 370.5,296.0 372.0,298.0 C373.5,300.0 376.0,302.3 378.0,304.0 C380.0,305.7 381.7,306.6 384.0,308.0 C386.3,309.4 390.7,311.8 392.0,312.5 L392,315 L380,309.5 L368,302 L362,297.5 L357.5,296 Z" fill="url(#l_wh2)"/>
<path d="M360,281 L357,296.5" stroke="#ffffff" stroke-width="1.2" fill="none"/>
</g>
<g transform="translate(0 0)">
<use href="#sil" transform="translate(-13 -7)" fill="#000" opacity="0.31" filter="url(#blur7)"/>
<use href="#sil" transform="translate(-3.5 -3.5)" fill="#000" opacity="0.24" filter="url(#blur4)"/>
<use href="#sil" fill="#14c8f8"/>
<path d="M594.7,310 L600,304 L609,304 L612.7,313 L550.5,573.7 L543,576 L538.5,552 Z" fill="url(#s_blu)"/>
<use href="#face" fill="url(#f_blu)"/>
<path d="M588.5,313 L534.5,548.0 C532.4,545.7 527.6,538.8 521.7,534.0 C515.8,529.2 506.7,523.4 499.2,519.0 C491.7,514.6 482.9,510.2 476.7,507.5 C470.4,504.8 466.7,503.7 461.7,502.5 C456.7,501.3 450.9,500.6 446.7,500.2 C442.5,499.8 440.9,499.7 436.7,500.0 C432.5,500.3 426.2,500.9 421.7,502.2 C417.2,503.4 412.9,505.4 409.7,507.5 C406.5,509.6 404.4,512.2 402.7,515.0 C400.9,517.8 401.0,521.6 399.2,524.0 C397.4,526.4 395.4,528.0 391.7,529.2 C387.9,530.5 382.9,531.6 376.7,531.5 C370.4,531.4 361.7,530.5 354.2,528.5 C346.7,526.5 337.9,523.0 331.7,519.5 C325.4,516.0 319.2,509.5 316.7,507.5" fill="none" stroke="#07506a" stroke-width="0.9" opacity="0.4"/>
<path d="M445,507.8 C436,509 427,512.5 420.5,518.5 C415,524 412,531 405.5,536.2 C401,539 392,540 384,540" fill="none" stroke="#7cecff" stroke-width="2.8" opacity="0.9" stroke-linecap="round" filter="url(#blur1)"/>
<path d="M538.5,552.0 C536.2,549.8 531.0,543.2 525.0,538.5 C519.0,533.8 510.0,527.9 502.5,523.5 C495.0,519.1 486.2,514.8 480.0,512.0 C473.8,509.2 470.0,508.2 465.0,507.0 C460.0,505.8 454.2,505.1 450.0,504.7 C445.8,504.3 444.2,504.2 440.0,504.5 C435.8,504.8 429.5,505.4 425.0,506.7 C420.5,507.9 416.2,509.9 413.0,512.0 C409.8,514.1 407.8,516.8 406.0,519.5 C404.2,522.2 404.3,526.1 402.5,528.5 C400.7,530.9 398.8,532.5 395.0,533.7 C391.2,535.0 386.2,536.1 380.0,536.0 C373.8,535.9 365.0,535.0 357.5,533.0 C350.0,531.0 341.2,527.5 335.0,524.0 C328.8,520.5 324.0,516.2 320.0,512.0 C316.0,507.8 312.8,502.3 311.0,499.0 C309.2,495.7 309.8,493.2 309.5,492.0" fill="none" stroke="#07506a" stroke-width="1.1" opacity="0.6"/>
<g clip-path="url(#silclip)"><path d="M372.0,298.0 C373.0,299.0 376.0,302.3 378.0,304.0 C380.0,305.7 381.7,306.6 384.0,308.0 C386.3,309.4 389.3,311.2 392.0,312.5 C394.7,313.8 397.0,315.0 400.0,316.0 C403.0,317.0 406.7,317.8 410.0,318.5 C413.3,319.2 416.7,319.8 420.0,320.0 C423.3,320.2 426.7,320.0 430.0,319.7 C433.3,319.4 436.7,318.9 440.0,318.0 C443.3,317.1 446.3,316.1 450.0,314.5 C453.7,312.9 458.8,311.2 462.0,308.5 C465.2,305.8 467.5,301.5 469.5,298.0 C471.5,294.5 472.2,290.2 474.0,287.5 C475.8,284.8 479.0,282.9 480.0,282.0" fill="none" stroke="#07506a" stroke-width="7" opacity="0.5"/><path d="M480.0,282.0 C481.2,281.4 484.5,279.6 487.5,278.5 C490.5,277.4 494.2,276.4 498.0,275.5 C501.8,274.6 504.2,273.7 510.0,273.2 C515.8,272.7 525.0,272.0 532.5,272.5 C540.0,273.0 547.5,274.2 555.0,276.2 C562.5,278.2 570.0,281.1 577.5,284.5 C585.0,287.9 594.8,293.2 600.0,296.5 C605.2,299.8 606.9,301.2 609.0,304.0 C611.1,306.8 612.1,311.5 612.7,313.0" fill="none" stroke="#07506a" stroke-width="8" opacity="0.22"/></g>
<path d="M372.0,298.0 C373.0,299.0 376.0,302.3 378.0,304.0 C380.0,305.7 381.7,306.6 384.0,308.0 C386.3,309.4 389.3,311.2 392.0,312.5 C394.7,313.8 397.0,315.0 400.0,316.0 C403.0,317.0 406.7,317.8 410.0,318.5 C413.3,319.2 416.7,319.8 420.0,320.0 C423.3,320.2 426.7,320.0 430.0,319.7 C433.3,319.4 436.7,318.9 440.0,318.0 C443.3,317.1 446.3,316.1 450.0,314.5 C453.7,312.9 458.8,311.2 462.0,308.5 C465.2,305.8 467.5,301.5 469.5,298.0 C471.5,294.5 472.2,290.2 474.0,287.5 C475.8,284.8 477.8,283.5 480.0,282.0 C482.2,280.5 484.5,279.6 487.5,278.5 C490.5,277.4 494.2,276.4 498.0,275.5 C501.8,274.6 504.2,273.7 510.0,273.2 C515.8,272.7 525.0,272.0 532.5,272.5 C540.0,273.0 547.5,274.2 555.0,276.2 C562.5,278.2 570.0,281.1 577.5,284.5 C585.0,287.9 594.8,293.2 600.0,296.5 C605.2,299.8 606.9,301.2 609.0,304.0 C611.1,306.8 612.1,311.5 612.7,313.0" fill="none" stroke="#07506a" stroke-width="1.5" opacity="0.9"/>
<path d="M474.0,287.5 C475.0,286.6 477.8,283.5 480.0,282.0 C482.2,280.5 484.5,279.6 487.5,278.5 C490.5,277.4 494.2,276.4 498.0,275.5 C501.8,274.6 504.2,273.7 510.0,273.2 C515.8,272.7 525.0,272.0 532.5,272.5 C540.0,273.0 547.5,274.2 555.0,276.2 C562.5,278.2 570.0,281.1 577.5,284.5 C585.0,287.9 594.8,293.2 600.0,296.5 C605.2,299.8 606.9,301.2 609.0,304.0 C611.1,306.8 612.1,311.5 612.7,313.0" fill="none" stroke="#000" stroke-width="1.3" opacity="0.45"/>
<path d="M362.0,297.5 C363.0,298.2 365.0,300.0 368.0,302.0 C371.0,304.0 376.0,307.3 380.0,309.5 C384.0,311.7 388.7,313.5 392.0,315.0 C395.3,316.5 397.0,317.5 400.0,318.5 C403.0,319.5 406.7,320.3 410.0,321.0 C413.3,321.7 416.7,322.3 420.0,322.5 C423.3,322.7 426.7,322.5 430.0,322.2 C433.3,321.9 436.5,321.4 440.0,320.5 C443.5,319.6 447.2,318.6 451.0,317.0 C454.8,315.4 459.7,313.8 463.0,311.0 C466.3,308.2 468.8,303.9 471.0,300.5 C473.2,297.1 474.7,293.0 476.5,290.5 C478.3,288.0 479.9,286.8 482.0,285.5 C484.1,284.2 486.2,283.4 489.0,282.5 C491.8,281.6 495.5,280.6 499.0,279.8 C502.5,279.0 504.5,278.2 510.0,277.7 C515.5,277.2 524.7,276.5 532.0,277.0 C539.3,277.5 546.8,278.8 554.0,280.7 C561.2,282.6 569.3,285.9 575.0,288.5 C580.7,291.1 585.0,293.8 588.0,296.0 C591.0,298.2 591.9,299.7 593.0,302.0 C594.1,304.3 594.4,308.7 594.7,310.0" fill="none" stroke="#14c8f8" stroke-width="0.9" opacity="0.75"/>
<path d="M360.0,281.0 C360.7,281.3 362.8,282.2 364.0,283.0 C365.2,283.8 366.2,284.5 367.0,286.0 C367.8,287.5 368.2,290.0 369.0,292.0 C369.8,294.0 370.5,296.0 372.0,298.0 C373.5,300.0 376.0,302.3 378.0,304.0 C380.0,305.7 381.7,306.6 384.0,308.0 C386.3,309.4 390.7,311.8 392.0,312.5 L392,315 L380,309.5 L368,302 L362,297.5 L357.5,296 Z" fill="url(#l_blu)"/>
<path d="M360,281 L357,296.5" stroke="#14c8f8" stroke-width="1.2" fill="none"/>
</g>
</g>

<g id="callouts">
<ellipse cx="138" cy="153.4" rx="83.6" ry="36.9" fill="none" stroke="#80161c" stroke-width="3"/>
<text x="138" y="148" text-anchor="middle" font-size="21.33" font-weight="700" fill="#8a1a20">Outer</text>
<text x="138" y="174" text-anchor="middle" font-size="21.33" font-weight="700" fill="#8a1a20">layer</text>
<ellipse cx="342.5" cy="134.5" rx="83.6" ry="36.9" fill="none" stroke="#82228a" stroke-width="3"/>
<text x="345.3" y="142" text-anchor="middle" font-size="21.33" font-weight="700" fill="#5c1760">Barrier</text>
<ellipse cx="593.1" cy="118.3" rx="83.6" ry="36.9" fill="none" stroke="#1089b0" stroke-width="3"/>
<text x="593.2" y="113" text-anchor="middle" font-size="21.33" font-weight="700" fill="#1089b0">Inner</text>
<text x="593.3" y="139" text-anchor="middle" font-size="21.33" font-weight="700" fill="#1089b0">layer</text>
<ellipse cx="145.6" cy="699.2" rx="91" ry="36.8" fill="none" stroke="#4a4a4a" stroke-width="3"/>
<text x="144.3" y="694.1" text-anchor="middle" font-size="21.1" font-weight="700" fill="#484848">Adhesive/</text>
<text x="145.4" y="720" text-anchor="middle" font-size="21.1" font-weight="700" fill="#484848">LDPE</text>
<ellipse cx="451.9" cy="690.3" rx="91" ry="36.8" fill="none" stroke="#4a4a4a" stroke-width="3"/>
<text x="450.3" y="685.2" text-anchor="middle" font-size="21.1" font-weight="700" fill="#484848">Adhesive/</text>
<text x="451.5" y="711.4" text-anchor="middle" font-size="21.1" font-weight="700" fill="#484848">LDPE</text>
<path d="M128.8,192.0 C129.1,195.2 129.8,204.7 130.6,211.0 C131.4,217.3 132.3,224.3 133.8,230.0 C135.2,235.7 137.4,241.0 139.0,245.0 C140.6,249.0 141.6,250.8 143.5,254.0 C145.4,257.2 147.8,261.7 150.5,264.5 C153.2,267.3 156.5,269.5 159.5,271.0 C162.5,272.5 165.8,272.0 168.5,273.5 C171.2,275.0 173.5,276.9 176.0,280.0 C178.5,283.1 181.2,287.5 183.5,292.0 C185.8,296.5 187.8,301.5 189.5,307.0 C191.2,312.5 192.8,319.5 194.0,325.0 C195.2,330.5 196.1,335.2 196.7,340.0 C197.3,344.8 197.6,351.2 197.8,353.5" fill="none" stroke="#7c141a" stroke-width="4.4" stroke-linecap="butt"/><path d="M121.2,208.8 L128.8,192.5 L137.5,208.1" fill="none" stroke="#7c141a" stroke-width="4.4" stroke-linecap="round" stroke-linejoin="miter"/>
<path d="M351.8,174.2 C351.6,176.9 351.3,184.1 350.8,190.0 C350.2,195.9 349.9,203.2 348.5,209.5 C347.1,215.8 345.0,221.8 342.5,227.5 C340.0,233.2 336.5,239.8 333.5,244.0 C330.5,248.2 327.5,251.0 324.5,253.0 C321.5,255.0 318.5,254.2 315.5,256.0 C312.5,257.8 309.0,260.5 306.5,263.5 C304.0,266.5 302.2,270.4 300.5,274.0 C298.8,277.6 297.4,281.3 296.0,285.0 C294.6,288.7 293.2,290.5 292.0,296.0 C290.8,301.5 289.3,311.3 288.5,318.0 C287.7,324.7 287.2,333.0 287.0,336.0" fill="none" stroke="#7c2084" stroke-width="4.4" stroke-linecap="butt"/><path d="M343.2,189.2 L351.8,175.0 L359.8,190.0" fill="none" stroke="#7c2084" stroke-width="4.4" stroke-linecap="round" stroke-linejoin="miter"/>
<path d="M592.4,155.8 C592.3,158.1 592.6,164.6 592.0,170.0 C591.4,175.4 590.8,181.8 589.0,188.0 C587.2,194.2 584.5,201.8 581.5,207.5 C578.5,213.2 574.5,218.4 571.0,222.5 C567.5,226.6 564.0,230.0 560.5,232.2 C557.0,234.5 553.2,235.2 550.0,236.0 C546.8,236.8 544.0,236.0 541.0,236.8 C538.0,237.5 535.0,238.4 532.0,240.5 C529.0,242.6 525.7,246.1 523.0,249.5 C520.3,252.9 518.2,257.2 516.0,261.0 C513.8,264.8 511.8,268.5 510.0,272.5 C508.2,276.5 506.8,281.2 505.5,285.0 C504.2,288.8 503.3,291.3 502.5,295.0 C501.7,298.7 501.0,303.0 500.5,307.0 C500.0,311.0 499.7,317.0 499.5,319.0" fill="none" stroke="#0f8bb1" stroke-width="4.4" stroke-linecap="butt"/><path d="M583.8,171.2 L592.4,156.5 L600.5,171.5" fill="none" stroke="#0f8bb1" stroke-width="4.4" stroke-linecap="round" stroke-linejoin="miter"/>
<path d="M221.4,524.4 C221.2,527.0 221.2,534.1 220.0,540.0 C218.8,545.9 216.7,554.0 214.0,560.0 C211.3,566.0 208.0,571.3 204.0,576.0 C200.0,580.7 194.7,585.3 190.0,588.0 C185.3,590.7 180.3,590.8 176.0,592.0 C171.7,593.2 168.0,593.0 164.0,595.0 C160.0,597.0 156.0,599.8 152.0,604.0 C148.0,608.2 143.2,614.0 140.0,620.0 C136.8,626.0 134.8,633.3 133.0,640.0 C131.2,646.7 129.7,657.0 129.0,660.4" fill="none" stroke="#868686" stroke-width="4.4" stroke-linecap="butt"/><path d="M121.6,645.0 L129.0,660.0 L138.0,646.0" fill="none" stroke="#868686" stroke-width="4.4" stroke-linecap="round" stroke-linejoin="miter"/>
<path d="M314.0,524.4 C314.7,527.7 315.7,537.7 318.0,544.0 C320.3,550.3 324.0,556.7 328.0,562.0 C332.0,567.3 337.0,572.2 342.0,576.0 C347.0,579.8 352.7,583.0 358.0,585.0 C363.3,587.0 369.0,587.2 374.0,588.0 C379.0,588.8 383.0,588.3 388.0,590.0 C393.0,591.7 398.7,594.0 404.0,598.0 C409.3,602.0 415.7,608.3 420.0,614.0 C424.3,619.7 427.4,625.5 430.0,632.0 C432.6,638.5 434.7,649.5 435.6,653.0" fill="none" stroke="#868686" stroke-width="4.4" stroke-linecap="butt"/><path d="M426.0,637.0 L435.6,652.5 L442.4,636.0" fill="none" stroke="#868686" stroke-width="4.4" stroke-linecap="round" stroke-linejoin="miter"/>
</g>
<g id="columns" font-family='&quot;Liberation Sans&quot;, Arial, sans-serif'>
<path d="M706.10,376.83 L706.33,374.52 L707.01,372.37 L708.12,370.46 L709.61,368.86 L711.43,367.64 L713.51,366.83 L715.76,366.48 L718.10,366.60 L813.80,380.68 L816.14,381.26 L818.39,382.28 L820.47,383.70 L822.29,385.46 L823.78,387.51 L824.89,389.76 L825.57,392.12 L825.80,394.51 L825.80,450.61 L825.57,452.93 L824.89,455.09 L823.78,457.01 L822.29,458.61 L820.47,459.84 L818.39,460.64 L816.14,460.99 L813.80,460.87 L718.10,446.45 L715.76,445.87 L713.51,444.84 L711.43,443.42 L709.61,441.66 L708.12,439.61 L707.01,437.37 L706.33,435.02 L706.10,432.64 Z" fill="#ffc400"/>
<path d="M706.10,460.54 L706.33,458.24 L707.01,456.09 L708.12,454.18 L709.61,452.59 L711.43,451.37 L713.51,450.57 L715.76,450.23 L718.10,450.35 L813.80,464.78 L816.14,465.37 L818.39,466.39 L820.47,467.82 L822.29,469.60 L823.78,471.65 L824.89,473.90 L825.57,476.27 L825.80,478.66 L825.80,540.99 L825.57,543.31 L824.89,545.46 L823.78,547.38 L822.29,548.98 L820.47,550.20 L818.39,550.99 L816.14,551.33 L813.80,551.20 L718.10,536.41 L715.76,535.82 L713.51,534.79 L711.43,533.36 L709.61,531.58 L708.12,529.53 L707.01,527.29 L706.33,524.93 L706.10,522.55 Z" fill="#cb5f0d"/>
<path d="M706.10,550.06 L706.33,547.75 L707.01,545.61 L708.12,543.70 L709.61,542.12 L711.43,540.90 L713.51,540.12 L715.76,539.78 L718.10,539.91 L813.80,554.72 L816.14,555.31 L818.39,556.34 L820.47,557.78 L822.29,559.56 L823.78,561.62 L824.89,563.88 L825.57,566.25 L825.80,568.64 L825.80,622.62 L825.57,624.94 L824.89,627.09 L823.78,629.00 L822.29,630.60 L820.47,631.81 L818.39,632.60 L816.14,632.93 L813.80,632.79 L718.10,617.67 L715.76,617.06 L713.51,616.03 L711.43,614.59 L709.61,612.81 L708.12,610.75 L707.01,608.50 L706.33,606.14 L706.10,603.77 Z" fill="#a3bdcf"/>
<path d="M707.70,631.83 L707.93,629.52 L708.61,627.38 L709.72,625.48 L711.21,623.89 L713.03,622.69 L715.11,621.91 L717.36,621.58 L719.70,621.72 L812.20,636.35 L814.54,636.96 L816.79,638.00 L818.87,639.44 L820.69,641.23 L822.18,643.29 L823.29,645.55 L823.97,647.93 L824.20,650.32 L824.20,712.34 L823.97,714.66 L823.29,716.81 L822.18,718.72 L820.69,720.30 L818.87,721.51 L816.79,722.29 L814.54,722.61 L812.20,722.46 L719.70,707.48 L717.36,706.87 L715.11,705.83 L713.03,704.38 L711.21,702.59 L709.72,700.53 L708.61,698.28 L707.93,695.92 L707.70,693.54 Z" fill="#00b5f7"/>
<path d="M704.50,314.79 L704.83,311.52 L705.79,308.47 L707.37,305.76 L709.48,303.49 L712.06,301.74 L714.99,300.60 L718.18,300.09 L721.50,300.24 L810.40,313.07 L813.72,313.88 L816.91,315.31 L819.84,317.31 L822.42,319.81 L824.53,322.70 L826.11,325.89 L827.07,329.23 L827.40,332.61 L827.40,715.77 L827.07,719.05 L826.11,722.10 L824.53,724.80 L822.42,727.05 L819.84,728.76 L816.91,729.86 L813.72,730.32 L810.40,730.11 L721.50,715.68 L718.18,714.82 L714.99,713.33 L712.06,711.28 L709.48,708.75 L707.37,705.83 L705.79,702.64 L704.83,699.29 L704.50,695.92 Z" fill="none" stroke="#7a1016" stroke-width="4"/>
<text transform="matrix(1 0.1492 0 1 763.95 420.27)" text-anchor="middle" font-size="22.7" font-weight="700" fill="#595959">OPP</text>
<text transform="matrix(1 0.1530 0 1 763.95 507.30)" text-anchor="middle" font-size="22.7" font-weight="700" fill="#595959">PET</text>
<text transform="matrix(1 0.1567 0 1 763.95 592.88)" text-anchor="middle" font-size="22.7" font-weight="700" fill="#595959">PA</text>
<text transform="matrix(1 0.1603 0 1 765.95 678.92)" text-anchor="middle" font-size="22.7" font-weight="700" fill="#595959">PCPP</text>
<text transform="matrix(1 0.1454 0 1 732.00 327.20)" font-size="28.4" font-weight="700" fill="#595959">Outer</text>
<text transform="matrix(1 0.1469 0 1 731.80 361.90)" font-size="28.4" font-weight="700" fill="#595959">layer</text>
<path d="M841.60,402.55 L841.83,400.24 L842.51,398.09 L843.62,396.19 L845.11,394.60 L846.93,393.38 L849.01,392.58 L851.26,392.24 L853.60,392.37 L949.20,406.87 L951.54,407.46 L953.79,408.49 L955.87,409.92 L957.69,411.71 L959.18,413.77 L960.29,416.03 L960.97,418.40 L961.20,420.80 L961.20,476.46 L960.97,478.79 L960.29,480.95 L959.18,482.87 L957.69,484.47 L955.87,485.68 L953.79,486.48 L951.54,486.81 L949.20,486.68 L853.60,471.65 L851.26,471.05 L849.01,470.02 L846.93,468.58 L845.11,466.80 L843.62,464.75 L842.51,462.50 L841.83,460.14 L841.60,457.76 Z" fill="#ffc400"/>
<path d="M845.80,657.23 L846.03,654.92 L846.71,652.79 L847.82,650.90 L849.31,649.33 L851.13,648.14 L853.21,647.39 L855.46,647.08 L857.80,647.25 L947.00,662.33 L949.34,662.96 L951.59,664.03 L953.67,665.50 L955.49,667.31 L956.98,669.39 L958.09,671.67 L958.77,674.06 L959.00,676.46 L959.00,732.62 L958.77,734.94 L958.09,737.09 L956.98,738.99 L955.49,740.56 L953.67,741.75 L951.59,742.50 L949.34,742.80 L947.00,742.62 L857.80,727.06 L855.46,726.42 L853.21,725.34 L851.13,723.87 L849.31,722.06 L847.82,719.98 L846.71,717.71 L846.03,715.34 L845.80,712.95 Z" fill="#00b5f7"/>
<path d="M840.00,335.20 L840.33,331.93 L841.29,328.88 L842.87,326.17 L844.98,323.91 L847.56,322.17 L850.49,321.03 L853.68,320.53 L857.00,320.69 L945.80,333.73 L949.12,334.54 L952.31,335.99 L955.24,338.00 L957.82,340.51 L959.93,343.42 L961.51,346.62 L962.47,349.98 L962.80,353.37 L962.80,734.39 L962.47,737.68 L961.51,740.72 L959.93,743.41 L957.82,745.64 L955.24,747.32 L952.31,748.39 L949.12,748.81 L945.80,748.56 L857.00,733.02 L853.68,732.12 L850.49,730.59 L847.56,728.50 L844.98,725.94 L842.87,722.99 L841.29,719.78 L840.33,716.42 L840.00,713.05 Z" fill="none" stroke="#7a34b2" stroke-width="4"/>
<path d="M841.60,486.87 L841.83,484.56 L842.51,482.42 L843.62,480.52 L845.11,478.94 L846.93,477.73 L849.01,476.95 L851.26,476.62 L853.60,476.76 L950.20,491.97 L952.54,492.57 L954.79,493.62 L956.87,495.06 L958.69,496.85 L960.18,498.92 L961.29,501.19 L961.97,503.57 L962.20,505.96 L962.20,561.93 L961.97,564.26 L961.29,566.42 L960.18,568.33 L958.69,569.92 L956.87,571.13 L954.79,571.91 L952.54,572.23 L950.20,572.08 L853.60,556.34 L851.26,555.73 L849.01,554.68 L846.93,553.23 L845.11,551.44 L843.62,549.38 L842.51,547.13 L841.83,544.76 L841.60,542.38 Z" fill="#cb5f0d"/>
<path d="M844.10,572.20 L844.33,569.90 L845.01,567.76 L846.12,565.86 L847.61,564.29 L849.43,563.09 L851.51,562.32 L853.76,562.00 L856.10,562.16 L951.70,577.77 L954.04,578.38 L956.29,579.44 L958.37,580.89 L960.19,582.70 L961.68,584.77 L962.79,587.05 L963.47,589.43 L963.70,591.83 L963.70,648.21 L963.47,650.53 L962.79,652.69 L961.68,654.59 L960.19,656.18 L958.37,657.37 L956.29,658.14 L954.04,658.45 L951.70,658.29 L856.10,642.15 L853.76,641.53 L851.51,640.47 L849.43,639.01 L847.61,637.21 L846.12,635.13 L845.01,632.87 L844.33,630.51 L844.10,628.12 Z" fill="#a3bdcf"/>
<text transform="matrix(1 0.1549 0 1 901.40 446.32)" text-anchor="middle" font-size="22.7" font-weight="700" fill="#595959">MCPP</text>
<text transform="matrix(1 0.1607 0 1 903.90 531.54)" text-anchor="middle" font-size="22.7" font-weight="700" fill="#595959">MPET</text>
<text transform="matrix(1 0.1665 0 1 904.90 617.19)" text-anchor="middle" font-size="22.7" font-weight="700" fill="#595959">Al</text>
<text transform="matrix(1 0.1723 0 1 902.60 701.78)" text-anchor="middle" font-size="22.7" font-weight="700" fill="#595959">LDPE</text>
<text transform="matrix(1 0.1497 0 1 853.00 362.20)" font-size="28.4" font-weight="700" fill="#595959">Barrier</text>
<path d="M978.60,426.05 L978.83,423.75 L979.51,421.60 L980.62,419.69 L982.11,418.10 L983.93,416.89 L986.01,416.10 L988.26,415.76 L990.60,415.89 L1085.70,430.43 L1088.04,431.02 L1090.29,432.05 L1092.37,433.48 L1094.19,435.26 L1095.68,437.31 L1096.79,439.57 L1097.47,441.94 L1097.70,444.33 L1097.70,493.68 L1097.47,496.00 L1096.79,498.15 L1095.68,500.07 L1094.19,501.66 L1092.37,502.88 L1090.29,503.67 L1088.04,504.00 L1085.70,503.87 L990.60,489.03 L988.26,488.44 L986.01,487.40 L983.93,485.97 L982.11,484.19 L980.62,482.14 L979.51,479.89 L978.83,477.54 L978.60,475.16 Z" fill="#ffc400"/>
<path d="M978.60,505.56 L978.83,503.26 L979.51,501.11 L980.62,499.21 L982.11,497.63 L983.93,496.42 L986.01,495.63 L988.26,495.30 L990.60,495.44 L1085.70,510.30 L1088.04,510.90 L1090.29,511.94 L1092.37,513.37 L1094.19,515.16 L1095.68,517.22 L1096.79,519.48 L1097.47,521.85 L1097.70,524.24 L1097.70,579.83 L1097.47,582.14 L1096.79,584.30 L1095.68,586.20 L1094.19,587.79 L1092.37,589.00 L1090.29,589.79 L1088.04,590.11 L1085.70,589.97 L990.60,574.79 L988.26,574.19 L986.01,573.14 L983.93,571.70 L982.11,569.92 L980.62,567.86 L979.51,565.61 L978.83,563.25 L978.60,560.87 Z" fill="#cb5f0d"/>
<path d="M978.60,589.28 L978.83,586.97 L979.51,584.83 L980.62,582.93 L982.11,581.35 L983.93,580.15 L986.01,579.37 L988.26,579.05 L990.60,579.19 L1085.70,594.39 L1088.04,595.00 L1090.29,596.04 L1092.37,597.49 L1094.19,599.28 L1095.68,601.35 L1096.79,603.61 L1097.47,605.98 L1097.70,608.37 L1097.70,664.56 L1097.47,666.88 L1096.79,669.03 L1095.68,670.93 L1094.19,672.52 L1092.37,673.72 L1090.29,674.50 L1088.04,674.82 L1085.70,674.67 L990.60,659.15 L988.26,658.53 L986.01,657.48 L983.93,656.03 L982.11,654.25 L980.62,652.18 L979.51,649.93 L978.83,647.56 L978.60,645.19 Z" fill="#a3bdcf"/>
<path d="M980.35,674.38 L980.58,672.07 L981.26,669.93 L982.37,668.04 L983.86,666.46 L985.68,665.27 L987.76,664.50 L990.01,664.18 L992.35,664.34 L1085.70,679.59 L1088.04,680.20 L1090.29,681.26 L1092.37,682.71 L1094.19,684.51 L1095.68,686.58 L1096.79,688.85 L1097.47,691.22 L1097.70,693.61 L1097.70,747.89 L1097.47,750.21 L1096.79,752.36 L1095.68,754.26 L1094.19,755.84 L1092.37,757.03 L1090.29,757.80 L1088.04,758.11 L1085.70,757.95 L992.35,742.39 L990.01,741.77 L987.76,740.71 L985.68,739.26 L983.86,737.46 L982.37,735.39 L981.26,733.13 L980.58,730.77 L980.35,728.39 Z" fill="#00b5f7"/>
<path d="M977.00,355.30 L977.33,352.03 L978.29,348.99 L979.87,346.29 L981.98,344.03 L984.56,342.30 L987.49,341.17 L990.68,340.68 L994.00,340.84 L1082.30,354.07 L1085.62,354.89 L1088.81,356.34 L1091.74,358.36 L1094.32,360.87 L1096.43,363.78 L1098.01,366.97 L1098.97,370.32 L1099.30,373.70 L1099.30,749.57 L1098.97,752.85 L1098.01,755.89 L1096.43,758.58 L1094.32,760.82 L1091.74,762.51 L1088.81,763.60 L1085.62,764.04 L1082.30,763.82 L994.00,749.07 L990.68,748.19 L987.49,746.69 L984.56,744.63 L981.98,742.08 L979.87,739.16 L978.29,735.95 L977.33,732.60 L977.00,729.23 Z" fill="none" stroke="#0e5f78" stroke-width="4"/>
<text transform="matrix(1 0.1548 0 1 1037.15 466.57)" text-anchor="middle" font-size="22.7" font-weight="700" fill="#595959">CPP</text>
<text transform="matrix(1 0.1583 0 1 1037.15 549.39)" text-anchor="middle" font-size="22.7" font-weight="700" fill="#595959">LLDPE</text>
<text transform="matrix(1 0.1612 0 1 1037.15 619.87)" text-anchor="middle" font-size="22.7" font-weight="700" fill="#595959">HEAT</text>
<text transform="matrix(1 0.1624 0 1 1037.15 647.34)" text-anchor="middle" font-size="22.7" font-weight="700" fill="#595959">SEAL</text>
<text transform="matrix(1 0.1653 0 1 1038.65 717.92)" text-anchor="middle" font-size="22.7" font-weight="700" fill="#595959">PCPP</text>
<text transform="matrix(1 0.1511 0 1 1001.20 374.70)" font-size="28.4" font-weight="700" fill="#595959">Inner</text>
<text transform="matrix(1 0.1526 0 1 1000.30 408.60)" font-size="28.4" font-weight="700" fill="#595959">layer</text>
</g>
<g id="logo">
<polygon points="1070.4,53 1098.1,80.5 1070.4,108 1043,80.5" fill="url(#lgDia)"/>
<path d="M1070.4,53 L1058.4,65.6 C1061.5,70 1063.2,78 1063.7,87 C1063.5,91 1061.5,93.6 1058.9,93.6 L1070.4,108 L1083.4,94.9 C1081,91 1079.4,87 1079,84.4 C1077,78 1077,72 1079,69.5 C1080,68 1081.4,67.3 1082.5,67.3 L1084.6,67.2 Z" fill="url(#lgBand)"/>
<path d="M1070.4,53 L1084.6,67.2 L1082.5,67.3 C1078.5,68 1076.6,72 1077.3,77 C1077.8,83 1080,89 1083.4,94.9 L1070.4,108 L1065,102.8 C1067,100.5 1071.5,93 1073.8,87 C1075.3,83 1075.8,80 1075.5,78 C1075,74 1073.6,71 1072.9,69.5 C1071.8,66 1071.2,62 1071.1,60.8 Z" fill="url(#lgDark)"/>
<path d="M1058.4,65.6 C1054.5,70 1051.6,76 1051.6,82 C1051.6,87 1052.4,90.3 1053.3,91 L1056.2,93.5 C1057,93.7 1058,93.7 1058.9,93.6 C1061.5,93.4 1063.6,90.5 1063.7,87 C1063.6,79 1061.8,70.5 1058.4,65.6 Z" fill="#e9e9e8"/>
<path d="M1083.4,94.9 C1087,90 1089.6,83 1089.6,77 C1089.6,73 1088.4,69.6 1087.2,69.2 L1085.2,67.2 C1084.3,67.1 1083.3,67.2 1082.5,67.3 C1079.5,67.8 1077.2,71 1077.3,75.6 C1077.6,82 1079.8,89 1083.4,94.9 Z" fill="#ebebea"/>
<text transform="translate(981.6 134.4) scale(1.686 1)" font-size="25.6" font-weight="400" fill="#0f4f45" stroke="#0f4f45" stroke-width="0.65" stroke-linejoin="round">STAVIAN</text>
<text x="1160.3" y="122.6" font-size="9" font-weight="700" fill="#0f4f45">®</text>
<text x="1025.4" y="149.9" font-size="10" fill="#1b5a50" textLength="90.5" lengthAdjust="spacingAndGlyphs">PACKAGING</text>
</g>
</svg></div></body></html>
